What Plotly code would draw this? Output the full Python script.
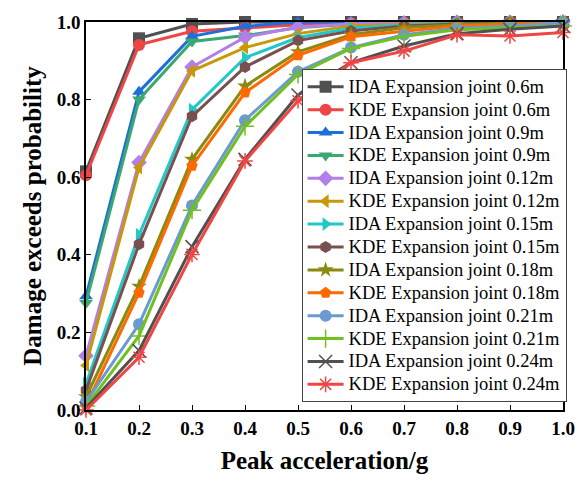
import plotly.graph_objects as go

pga = [0.1, 0.2, 0.3, 0.4, 0.5, 0.6, 0.7, 0.8, 0.9, 1.0]
x_ticks = ["0.1", "0.2", "0.3", "0.4", "0.5", "0.6", "0.7", "0.8", "0.9", "1.0"]
y_vals = [0, 0.2, 0.4, 0.6, 0.8, 1.0]
y_ticks = ["0.0", "0.2", "0.4", "0.6", "0.8", "1.0"]

names = [
    "IDA Expansion joint 0.6m", "KDE Expansion joint 0.6m",
    "IDA Expansion joint 0.9m", "KDE Expansion joint 0.9m",
    "IDA Expansion joint 0.12m", "KDE Expansion joint 0.12m",
    "IDA Expansion joint 0.15m", "KDE Expansion joint 0.15m",
    "IDA Expansion joint 0.18m", "KDE Expansion joint 0.18m",
    "IDA Expansion joint 0.21m", "KDE Expansion joint 0.21m",
    "IDA Expansion joint 0.24m", "KDE Expansion joint 0.24m",
]

ida_06 = [0.615, 0.958, 0.995, 1.0, 1.0, 1.0, 1.0, 1.0, 1.0, 1.0]
kde_06 = [0.605, 0.941, 0.976, 0.985, 0.993, 0.997, 0.998, 0.999, 1.0, 1.0]
ida_09 = [0.293, 0.82, 0.963, 0.989, 1.0, 1.0, 1.0, 1.0, 1.0, 1.0]
kde_09 = [0.276, 0.80, 0.95, 0.965, 0.985, 0.995, 0.998, 0.999, 1.0, 1.0]
ida_012 = [0.140, 0.638, 0.884, 0.961, 0.987, 0.995, 0.998, 1.0, 1.0, 1.0]
kde_012 = [0.115, 0.625, 0.874, 0.934, 0.97, 0.99, 0.994, 0.997, 0.999, 1.0]
ida_015 = [0.068, 0.451, 0.774, 0.908, 0.96, 0.984, 0.992, 0.996, 0.998, 1.0]
kde_015 = [0.051, 0.427, 0.757, 0.884, 0.952, 0.977, 0.99, 0.995, 0.998, 0.999]
ida_018 = [0.034, 0.319, 0.646, 0.835, 0.923, 0.967, 0.985, 0.993, 0.997, 0.999]
kde_018 = [0.012, 0.302, 0.629, 0.818, 0.914, 0.962, 0.976, 0.99, 0.995, 0.998]
ida_021 = [0.021, 0.221, 0.527, 0.747, 0.872, 0.934, 0.967, 0.984, 0.99, 0.998]
kde_021 = [0.01, 0.191, 0.515, 0.731, 0.865, 0.932, 0.963, 0.98, 0.985, 0.99]
ida_024 = [0.005, 0.153, 0.421, 0.646, 0.812, 0.895, 0.938, 0.97, 0.981, 0.99]
kde_024 = [0.0, 0.136, 0.401, 0.642, 0.797, 0.895, 0.925, 0.967, 0.964, 0.973]

series = [ida_06, kde_06, ida_09, kde_09, ida_012, kde_012, ida_015, kde_015,
          ida_018, kde_018, ida_021, kde_021, ida_024, kde_024]

colors = ["#505050", "#f04545", "#1f6fd8", "#3aa870", "#b07fe8", "#c8980a",
          "#20c8c8", "#7a4f4f", "#8a8a10", "#ff6a00", "#6a9ad0", "#70c020",
          "#505050", "#f04545"]
symbols = ["square", "circle", "triangle-up", "triangle-down", "diamond",
           "triangle-left", "triangle-right", "hexagon", "star", "pentagon",
           "circle", "cross-thin", "x-thin", "asterisk"]

FF = "Liberation Serif, Times New Roman, serif"

fig = go.Figure()
for name, ys, c, s in zip(names, series, colors, symbols):
    thin = s in ("cross-thin", "x-thin", "asterisk")
    fig.add_trace(go.Scatter(
        x=pga, y=ys,
        name='<span style="font-size:18.5px">' + name + "</span>",
        mode="lines+markers",
        line=dict(color=c, width=3),
        marker=dict(symbol=s, size=12 if not thin else 13, color=c,
                    line=dict(color=c, width=1.5 if thin else 0)),
        cliponaxis=False,
    ))

fig.update_layout(
    width=587, height=483,
    margin=dict(l=86, r=14, t=18, b=73),
    paper_bgcolor="white", plot_bgcolor="white",
    font=dict(family=FF, color="black"),
    showlegend=True,
    legend=dict(
        x=0.452, y=0.878, xanchor="left", yanchor="top",
        bordercolor="#444444", borderwidth=1, bgcolor="white",
        font=dict(family=FF, size=15.3, color="black"),
        tracegroupgap=0, itemwidth=36,
    ),
    xaxis=dict(
        range=[0.1, 1.0], tickvals=pga, ticktext=x_ticks,
        ticks="inside", ticklen=5, tickwidth=1.2, tickcolor="black",
        showline=True, linecolor="black", linewidth=1.5, mirror=True,
        showgrid=False, zeroline=False,
        tickfont=dict(family=FF, size=19, color="black", weight="bold"),
        title=dict(text="<b>Peak acceleration/g</b>",
                   font=dict(family=FF, size=25, color="black"), standoff=14),
    ),
    yaxis=dict(
        range=[0, 1.0], tickvals=y_vals, ticktext=y_ticks,
        ticks="inside", ticklen=5, tickwidth=1.2, tickcolor="black",
        showline=True, linecolor="black", linewidth=1.5, mirror=True,
        showgrid=False, zeroline=False,
        tickfont=dict(family=FF, size=19, color="black", weight="bold"),
        title=dict(text="<b>Damage exceeds probability</b>",
                   font=dict(family=FF, size=25, color="black"), standoff=8),
    ),
)

fig.write_html("out.html")
